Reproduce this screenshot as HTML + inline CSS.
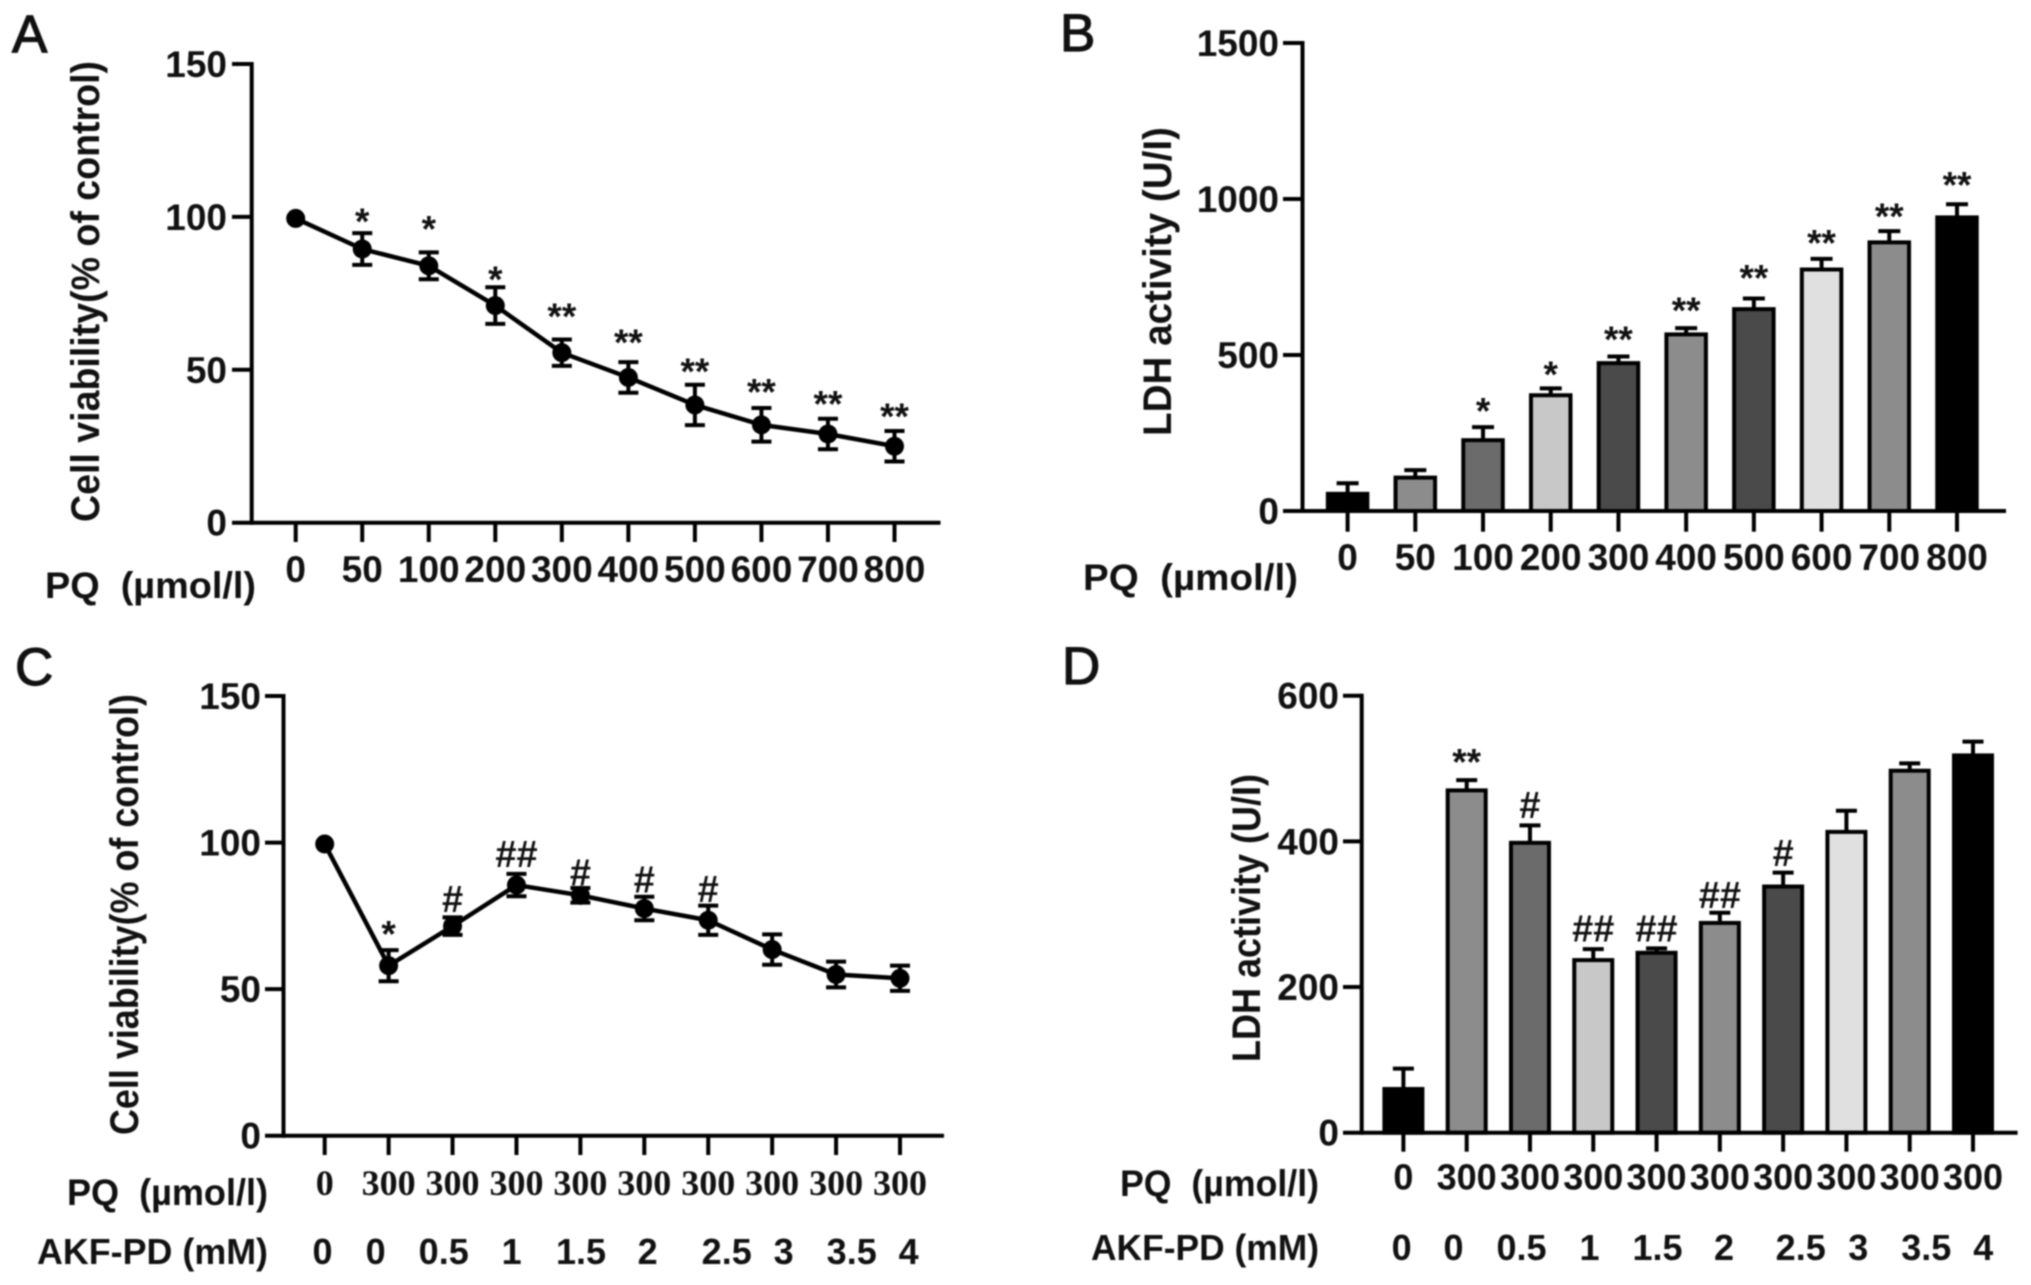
<!DOCTYPE html>
<html lang="en">
<head>
<meta charset="utf-8">
<title>Cell viability and LDH activity panels</title>
<style>
  html, body { margin: 0; padding: 0; background: #fff; }
  svg { display: block; filter: blur(0.9px); }
  text { font-family: "Liberation Sans", sans-serif; fill: #111; white-space: pre; }
  .bold { font-weight: bold; }
  .letter { font-size: 53px; stroke: #111; stroke-width: 1.2px; }
</style>
</head>
<body>
<svg id="figure" width="2031" height="1285" viewBox="0 0 2031 1285" xmlns="http://www.w3.org/2000/svg">
  <text class="letter" x="12" y="52">A</text>
  <text class="letter" x="1060" y="51">B</text>
  <text class="letter" x="15" y="685">C</text>
  <text class="letter" x="1062" y="684">D</text>

  <text class="bold" font-size="40" textLength="461" lengthAdjust="spacingAndGlyphs" transform="translate(99,522) rotate(-90)">Cell viability(% of control)</text>
  <text class="bold" font-size="40" textLength="309" lengthAdjust="spacingAndGlyphs" transform="translate(1171,436) rotate(-90)">LDH activity (U/I)</text>
  <text class="bold" font-size="40" textLength="441" lengthAdjust="spacingAndGlyphs" transform="translate(138,1135) rotate(-90)">Cell viability(% of control)</text>
  <text class="bold" font-size="40" textLength="288" lengthAdjust="spacingAndGlyphs" transform="translate(1260,1062) rotate(-90)">LDH activity (U/I)</text>

  <text class="bold" font-size="37" x="45" y="598" textLength="211" lengthAdjust="spacingAndGlyphs">PQ  (µmol/l)</text>
  <text class="bold" font-size="37" x="1083" y="590" textLength="215" lengthAdjust="spacingAndGlyphs">PQ  (µmol/l)</text>
  <text class="bold" font-size="37" x="67" y="1205" textLength="201" lengthAdjust="spacingAndGlyphs">PQ  (µmol/l)</text>
  <text class="bold" font-size="36" x="37" y="1264" textLength="231" lengthAdjust="spacingAndGlyphs">AKF-PD (mM)</text>
  <text class="bold" font-size="37" x="1120" y="1196" textLength="199" lengthAdjust="spacingAndGlyphs">PQ  (µmol/l)</text>
  <text class="bold" font-size="36" x="1091" y="1260" textLength="228" lengthAdjust="spacingAndGlyphs">AKF-PD (mM)</text>
</svg>
<script>
// Panel A data
const aCategories = ['0', '50', '100', '200', '300', '400', '500', '600', '700', '800'];
const aValues = [99.5, 89.5, 84, 71, 55.6, 47.5, 38.5, 32, 29, 25];
const aErrors = [0, 5.2, 4.4, 6, 4.3, 5, 6.6, 5.5, 5, 5];
const aSigLabels = ['', '*', '*', '*', '**', '**', '**', '**', '**', '**'];
const aSigLevels = [0, 99.5, 97, 80.5, 68.5, 60, 50.5, 43.8, 39.8, 35.8];
const aTicks = [0, 50, 100, 150];

// Panel B data
const bCategories = ['0', '50', '100', '200', '300', '400', '500', '600', '700', '800'];
const bValues = [55, 107, 227, 371, 474, 566, 647, 774, 861, 941];
const bErrors = [34, 24, 42, 22, 21, 20, 34, 34, 36, 42];
const bSigLabels = ['', '', '*', '*', '**', '**', '**', '**', '**', '**'];
const bSigLevels = [0, 0, 330, 448, 560, 653, 757, 868, 953, 1055];
const bShades = ['#000000', '#8c8c8c', '#6b6b6b', '#c8c8c8', '#4a4a4a', '#8c8c8c', '#4a4a4a', '#e0e0e0', '#8c8c8c', '#000000'];
const bTicks = [0, 500, 1000, 1500];

// Panel C data
const cCategories = ['0', '300', '300', '300', '300', '300', '300', '300', '300', '300'];
const cDoses = ['0', '0', '0.5', '1', '1.5', '2', '2.5', '3', '3.5', '4'];
const cValues = [99.5, 58, 71.5, 85.5, 82, 77.5, 73.5, 63.5, 55, 53.7];
const cErrors = [0, 5.3, 3, 3.8, 2.5, 4, 5, 5.2, 4.4, 4.3];
const cSigLabels = ['', '*', '#', '##', '#', '#', '#', '', '', ''];
const cSigLevels = [0, 69.8, 80.7, 96, 89.8, 87.3, 84.2, 0, 0, 0];
const cTicks = [0, 50, 100, 150];

// Panel D data
const dCategories = ['0', '300', '300', '300', '300', '300', '300', '300', '300', '300'];
const dDoses = ['0', '0', '0.5', '1', '1.5', '2', '2.5', '3', '3.5', '4'];
const dValues = [60, 470, 398, 237, 247, 288, 338, 413, 497, 518];
const dErrors = [28, 14, 24, 15, 6, 14, 19, 29, 10, 19];
const dSigLabels = ['', '**', '#', '##', '##', '##', '#', '', '', ''];
const dSigLevels = [0, 513, 450, 280, 280, 326, 384, 0, 0, 0];
const dShades = ['#000000', '#8c8c8c', '#6b6b6b', '#c8c8c8', '#4a4a4a', '#8c8c8c', '#4a4a4a', '#e0e0e0', '#8c8c8c', '#000000'];
const dTicks = [0, 200, 400, 600];

const SVG_NS = 'http://www.w3.org/2000/svg';
const figure = document.getElementById('figure');

function make(tag, name, attrs, parent) {
  const el = document.createElementNS(SVG_NS, tag);
  
  
  for (const key in attrs) el.setAttribute(key, attrs[key]);
  (parent || figure).appendChild(el);
  return el;
}

function line(name, x1, y1, x2, y2, width, parent) {
  return make('line', name, { x1, y1, x2, y2, stroke: '#000', 'stroke-width': width }, parent);
}

function label(name, str, x, y, attrs, parent) {
  const el = make('text', name, Object.assign({ x, y }, attrs), parent);
  el.textContent = str;
  return el;
}

function drawAxes(p, group) {
  line(p.id + '-y-axis', p.axisX, p.yTopPx - 2, p.axisX, p.y0Px + 2, 4, group);
  line(p.id + '-x-axis', p.tickLeft, p.y0Px, p.xEnd, p.y0Px, 4, group);
  p.ticks.forEach(function (t) {
    const y = p.y(t);
    if (t !== 0) line(p.id + '-y-tick-' + t, p.tickLeft, y, p.axisX, y, 4, group);
    label(p.id + '-y-tick-label-' + t, String(t), p.yLabelX, y + 13, { 'font-size': 37, 'font-weight': 'bold', 'text-anchor': 'end' }, group);
  });
  p.categories.forEach(function (c, i) {
    const x = p.x(i);
    line(p.id + '-x-tick-' + i, x, p.y0Px, x, p.tickBottom, 4, group);
    label(p.id + '-x-tick-label-' + i, c, x, p.catBaseline, {
      'font-size': p.catFont.size,
      'font-weight': 'bold',
      style: 'font-family:' + p.catFont.family,
      'text-anchor': 'middle'
    }, group);
  });
}

function drawSig(p, group) {
  p.sigLabels.forEach(function (s, i) {
    if (!s) return;
    const isStar = s.charAt(0) === '*';
    const size = isStar ? 37 : 38;
    const cy = p.y(p.sigLevels[i]);
    const base = isStar ? cy + size * 0.42 : cy + size * 0.34;
    label(p.id + '-significance-' + i, s, p.x(i), base, { 'font-size': size, 'font-weight': 'bold', 'text-anchor': 'middle' }, group);
  });
}

function drawDoses(p, group, doses, positions, baseline) {
  doses.forEach(function (d, i) {
    label(p.id + '-dose-label-' + i, d, positions[i], baseline, { 'font-size': 36, 'font-weight': 'bold', 'text-anchor': 'middle' }, group);
  });
}

function drawLine(p, group) {
  const pts = p.values.map(function (v, i) { return p.x(i) + ',' + p.y(v); }).join(' ');
  make('polyline', p.id + '-series-line', { points: pts, fill: 'none', stroke: '#000', 'stroke-width': 4.5, 'stroke-linejoin': 'round' }, group);
  p.values.forEach(function (v, i) {
    const x = p.x(i);
    const e = p.errors[i];
    if (e > 0) {
      line(p.id + '-error-stem-' + i, x, p.y(v + e), x, p.y(v - e), 4, group);
      line(p.id + '-error-cap-top-' + i, x - 10, p.y(v + e), x + 10, p.y(v + e), 4, group);
      line(p.id + '-error-cap-bottom-' + i, x - 10, p.y(v - e), x + 10, p.y(v - e), 4, group);
    }
    make('circle', p.id + '-point-' + i, { cx: x, cy: p.y(v), r: 9.5, fill: '#000' }, group);
  });
}

function drawBars(p, group) {
  p.values.forEach(function (v, i) {
    const x = p.x(i);
    const e = p.errors[i];
    line(p.id + '-error-stem-' + i, x, p.y(v + e), x, p.y(v), 4, group);
    line(p.id + '-error-cap-' + i, x - p.capHalf, p.y(v + e), x + p.capHalf, p.y(v + e), 4, group);
    make('rect', p.id + '-bar-' + i, {
      x: x - p.barWidth / 2,
      y: p.y(v),
      width: p.barWidth,
      height: p.y0Px - p.y(v),
      fill: p.shades[i],
      stroke: '#000',
      'stroke-width': 4
    }, group);
  });
}

function panel(cfg) {
  const yMax = cfg.ticks[cfg.ticks.length - 1];
  cfg.y = function (v) { return cfg.y0Px + (cfg.yTopPx - cfg.y0Px) * v / yMax; };
  cfg.x = function (i) { return cfg.x0Px + (cfg.xLastPx - cfg.x0Px) * i / (cfg.categories.length - 1); };
  const group = make('g', cfg.id, {});
  if (cfg.shades) drawBars(cfg, group);
  drawAxes(cfg, group);
  if (!cfg.shades) drawLine(cfg, group);
  drawSig(cfg, group);
  return { cfg, group };
}

const sansTick = { size: 37, family: '"Liberation Sans", sans-serif' };
const sansTickSmall = { size: 36, family: '"Liberation Sans", sans-serif' };
const serifTick = { size: 36, family: '"Liberation Serif", serif' };

panel({
  id: 'panel-a', categories: aCategories, values: aValues, errors: aErrors,
  sigLabels: aSigLabels, sigLevels: aSigLevels, ticks: aTicks,
  axisX: 251.7, yTopPx: 64, y0Px: 522.7, tickLeft: 232, xEnd: 940.5, tickBottom: 542,
  x0Px: 295.7, xLastPx: 894.5, yLabelX: 227, catBaseline: 582, catFont: sansTick
});

panel({
  id: 'panel-b', categories: bCategories, values: bValues, errors: bErrors,
  sigLabels: bSigLabels, sigLevels: bSigLevels, ticks: bTicks, shades: bShades,
  barWidth: 39.5, capHalf: 11,
  axisX: 1302.5, yTopPx: 43, y0Px: 511, tickLeft: 1283, xEnd: 2006, tickBottom: 531.7,
  x0Px: 1347.6, xLastPx: 1957, yLabelX: 1279, catBaseline: 570, catFont: sansTick
});

const panelC = panel({
  id: 'panel-c', categories: cCategories, values: cValues, errors: cErrors,
  sigLabels: cSigLabels, sigLevels: cSigLevels, ticks: cTicks,
  axisX: 283.5, yTopPx: 696, y0Px: 1135.7, tickLeft: 265, xEnd: 944, tickBottom: 1155,
  x0Px: 324.7, xLastPx: 900, yLabelX: 261, catBaseline: 1195, catFont: serifTick
});
drawDoses(panelC.cfg, panelC.group, cDoses, [322.5, 375.7, 443.7, 511.7, 581, 647.7, 726.7, 783.7, 851.7, 908.7], 1264);

const panelD = panel({
  id: 'panel-d', categories: dCategories, values: dValues, errors: dErrors,
  sigLabels: dSigLabels, sigLevels: dSigLevels, ticks: dTicks, shades: dShades,
  barWidth: 38, capHalf: 10.5,
  axisX: 1361.7, yTopPx: 695.7, y0Px: 1132.7, tickLeft: 1343, xEnd: 2017.6, tickBottom: 1151.7,
  x0Px: 1403.4, xLastPx: 1973, yLabelX: 1339, catBaseline: 1189.5, catFont: sansTickSmall
});
drawDoses(panelD.cfg, panelD.group, dDoses, [1401.7, 1453.5, 1521.5, 1589.5, 1657.5, 1724, 1800.7, 1858.3, 1926.3, 1983.3], 1260);
</script>
</body>
</html>
